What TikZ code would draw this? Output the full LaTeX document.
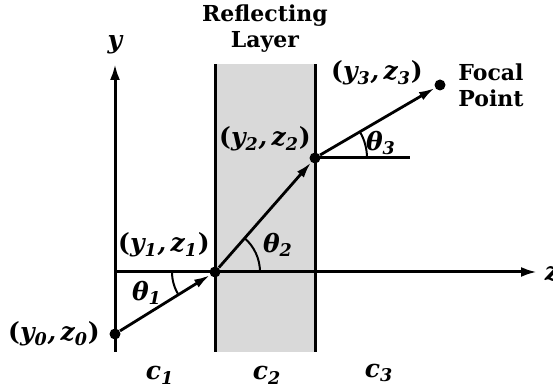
\documentclass[tikz,border=0pt]{standalone}
\usepackage{fontspec}
\setmainfont{DejaVu Serif}
\usetikzlibrary{arrows.meta}
\newcommand\mypt[1]{{\upshape(}\textit{y}\textsubscript{\textit{#1}}\textit{,\,z}\textsubscript{\textit{#1}}{\upshape)}}
\begin{document}
\begin{tikzpicture}[x=0.5pt,y=0.5pt,
  lab/.style={font=\fontsize{11}{13}\selectfont\bfseries, inner sep=0pt},
  mlab/.style={font=\fontsize{12.5}{14}\selectfont\bfseries\itshape, inner sep=0pt},
  axis/.style={line width=1.5pt, -{Latex[length=8pt,width=5pt]}},
  ray/.style={line width=1.4pt, -{Latex[length=8pt,width=4.5pt]}},
  dot/.style={circle, fill=black, inner sep=0pt, minimum size=5.5pt},
  border/.style={line width=1.5pt},
  anglearc/.style={line width=1pt}]
\useasboundingbox (0,0) rectangle (553,389);
% layer
\fill[black!15] (215,37) rectangle (315,325);
\coordinate (lb) at (215,37); \coordinate (lt) at (215,325);
\coordinate (rb) at (315,37); \coordinate (rt) at (315,325);
\draw[border] (lb) -- (lt);
\draw[border] (rb) -- (rt);
% axes
\coordinate (ybot) at (115,37);
\coordinate (ytop) at (115,325);
\coordinate (zleft) at (115,117);
\coordinate (zright) at (537,117);
\draw[axis] (ybot) -- (ytop);
\draw[axis] (zleft) -- (zright);
\node[mlab] (ylab) at (115,344) {y};
\node[mlab] (zlab) at (552,115) {z};
% points
\node[dot] (p0) at (115,55) {};
\node[dot] (p1) at (215,117) {};
\node[dot] (p2) at (315,231) {};
\node[dot] (p3) at (440,304) {};
\coordinate (h3) at (410,231);
\draw[line width=1.5pt] (p2.center) -- (h3);
% rays
\draw[ray] (p0) -- (p1);
\draw[ray] (p1) -- (p2);
\draw[ray] (p2) -- (p3);
% angle arcs
\draw[anglearc] ([shift={(180:43)}]p1.center) arc[start angle=180,end angle=211.8,radius=43];
\draw[anglearc] ([shift={(0:45)}]p1.center) arc[start angle=0,end angle=48.7,radius=45];
\draw[anglearc] ([shift={(0:52)}]p2.center) arc[start angle=0,end angle=30.3,radius=52];
% labels
\node[lab, align=center] (title) at (265,360) {Reflecting\\Layer};
\node[lab, align=left] (focal) at (491,304) {Focal\\Point};
\node[mlab] (l0) at (54,55) {\mypt{0}};
\node[mlab] (l1) at (164,144) {\mypt{1}};
\node[mlab] (l2) at (265,250) {\mypt{2}};
\node[mlab] (l3) at (377,316) {\mypt{3}};
\node[mlab] (t1) at (147,96) {θ\textsubscript{1}};
\node[mlab] (t2) at (278,144) {θ\textsubscript{2}};
\node[mlab] (t3) at (381,246) {θ\textsubscript{3}};
\node[mlab] (c1) at (160,14) {c\textsubscript{1}};
\node[mlab] (c2) at (267,14) {c\textsubscript{2}};
\node[mlab] (c3) at (379,16) {c\textsubscript{3}};
\end{tikzpicture}
\end{document}
